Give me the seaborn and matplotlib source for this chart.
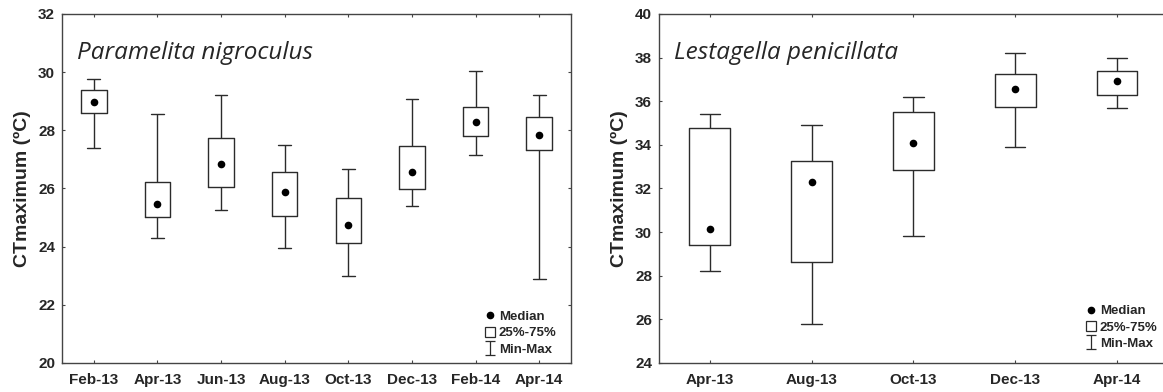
import numpy as np
import pandas as pd
import matplotlib
matplotlib.use("Agg")
import matplotlib.pyplot as plt
import seaborn as sns
from matplotlib.path import Path
from matplotlib.lines import Line2D

# Paramelita nigroculus: CTmax summaries per sampling month
p_months = ["Feb-13", "Apr-13", "Jun-13", "Aug-13", "Oct-13", "Dec-13", "Feb-14", "Apr-14"]
p_min = [27.40, 24.31, 25.25, 23.94, 22.98, 25.41, 27.16, 22.90]
p_q1 = [28.61, 25.01, 26.05, 25.04, 24.14, 25.99, 27.82, 27.31]
p_med = [28.96, 25.47, 26.84, 25.88, 24.73, 26.56, 28.29, 27.85]
p_q3 = [29.39, 26.21, 27.72, 26.58, 25.66, 27.47, 28.81, 28.47]
p_max = [29.75, 28.55, 29.20, 27.50, 26.66, 29.09, 30.03, 29.23]

# Lestagella penicillata: CTmax summaries per sampling month
l_months = ["Apr-13", "Aug-13", "Oct-13", "Dec-13", "Apr-14"]
l_min = [28.21, 25.79, 29.84, 33.88, 35.69]
l_q1 = [29.40, 28.63, 32.86, 35.75, 36.30]
l_med = [30.13, 32.32, 34.07, 36.57, 36.93]
l_q3 = [34.77, 33.27, 35.49, 37.26, 37.40]
l_max = [35.42, 34.92, 36.21, 38.22, 37.99]

sns.set_style("ticks")
plt.rcParams["font.family"] = ["Liberation Sans", "DejaVu Sans"]
plt.rcParams["font.weight"] = "bold"

LINE = "#2b2b2b"
SPINE = "#444444"


def five_number_frame(months, mn, q1, med, q3, mx):
    # Five values per month reproduce min, quartiles and max exactly
    rows = []
    for m, a, b, c, d, e in zip(months, mn, q1, med, q3, mx):
        for v in (a, b, c, d, e):
            rows.append({"month": m, "ctmax": v})
    return pd.DataFrame(rows)


# I-shaped marker for the Min-Max legend entry
i_marker = Path(
    [(-0.4, 0.5), (0.4, 0.5), (0, 0.5), (0, -0.5), (-0.4, -0.5), (0.4, -0.5)],
    [Path.MOVETO, Path.LINETO, Path.MOVETO, Path.LINETO, Path.MOVETO, Path.LINETO],
)


def panel(ax, months, mn, q1, med, q3, mx, ylim, title, legend_anchor, right_ticks):
    df = five_number_frame(months, mn, q1, med, q3, mx)
    sns.boxplot(
        data=df, x="month", y="ctmax", order=months, ax=ax,
        whis=(0, 100), width=0.4, fill=False, color=LINE, linewidth=1.0,
        showfliers=False, medianprops={"visible": False},
    )
    med_df = pd.DataFrame({"month": months, "median": med})
    sns.stripplot(data=med_df, x="month", y="median", order=months, ax=ax,
                  jitter=False, color="black", size=5.5, linewidth=0, zorder=5)
    ax.set_xlim(-0.5, len(months) - 0.5)
    ax.set_ylim(*ylim)
    ax.set_yticks(np.arange(ylim[0], ylim[1] + 0.1, 2))
    ax.set_xlabel("")
    ax.set_ylabel("CTmaximum (ºC)", fontsize=14, fontweight="bold")
    ax.yaxis.set_label_coords(-0.06, 0.5)
    ax.tick_params(direction="in", length=2.2, width=0.8, color=SPINE,
                   top=True, right=right_ticks, labelsize=11)
    ax.tick_params(axis="x", pad=7)
    ax.tick_params(axis="y", pad=5)
    for lab in ax.get_xticklabels() + ax.get_yticklabels():
        lab.set_fontweight("bold")
    for s in ax.spines.values():
        s.set_visible(True)
        s.set_color(SPINE)
        s.set_linewidth(1.0)
    ax.text(0.03, 0.87, title, transform=ax.transAxes, fontsize=17.5,
            style="italic", fontweight="normal", family=["Open Sans", "DejaVu Sans"],
            va="baseline", ha="left")
    handles = [
        Line2D([], [], ls="none", marker="o", color="black", markersize=4.5),
        Line2D([], [], ls="none", marker="s", markerfacecolor="white",
               markeredgecolor=LINE, markersize=7.5, markeredgewidth=0.9),
        Line2D([], [], ls="none", marker=i_marker, markerfacecolor="none",
               markeredgecolor=LINE, markersize=9.5, markeredgewidth=0.9),
    ]
    ax.legend(handles, ["Median", "25%-75%", "Min-Max"], loc="lower right",
              bbox_to_anchor=legend_anchor, frameon=False,
              prop={"weight": "bold", "size": 9.5}, handlelength=0.7,
              handletextpad=0.35, labelspacing=0.32, borderaxespad=0.0)


fig = plt.figure(figsize=(11.63, 3.92), dpi=100)
ax1 = fig.add_axes([0.0533, 0.074, 0.4377, 0.8903])
ax2 = fig.add_axes([0.5666, 0.074, 0.4377, 0.8903])

panel(ax1, p_months, p_min, p_q1, p_med, p_q3, p_max, (20, 32),
      "Paramelita nigroculus", (0.982, 0.006), True)
panel(ax2, l_months, l_min, l_q1, l_med, l_q3, l_max, (24, 40),
      "Lestagella penicillata", (0.99, 0.022), False)

fig.savefig("out.png", dpi=100, facecolor="white")
